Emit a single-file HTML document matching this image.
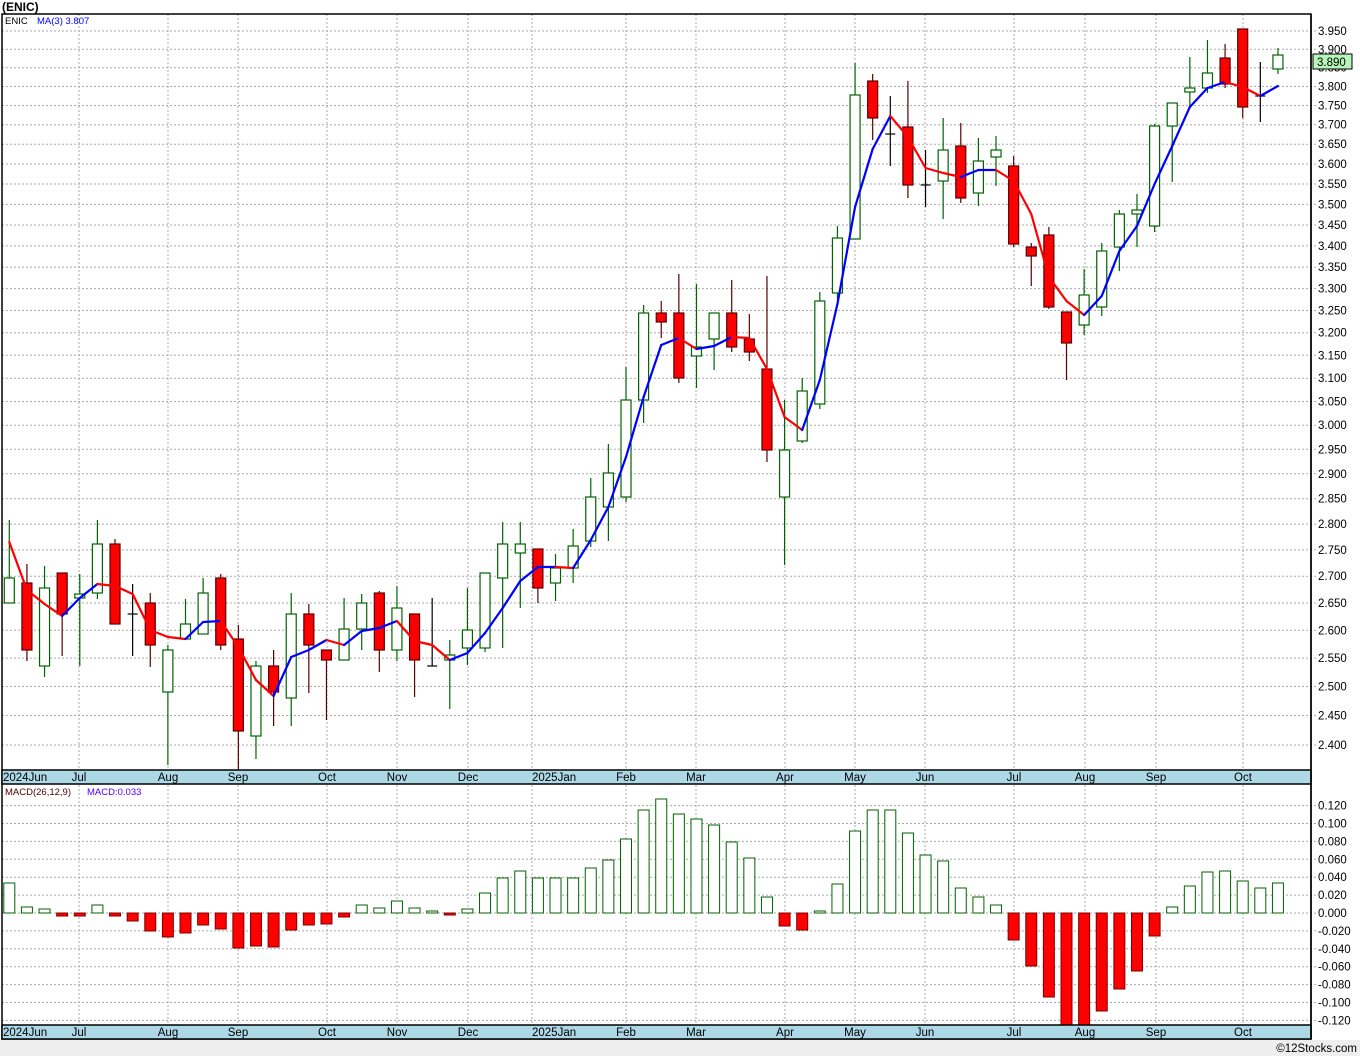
<!DOCTYPE html>
<html><head><meta charset="utf-8"><style>
html,body{margin:0;padding:0;background:#fff;}
svg{display:block;font-family:"Liberation Sans","DejaVu Sans",sans-serif;}
</style></head><body>
<svg id="c" width="1360" height="1056" xmlns="http://www.w3.org/2000/svg"></svg>
<script>
const S=document.getElementById('c');let h='';
h+='<rect x="0" y="1040" width="1360" height="16" fill="#eeeeee"/>';
h+='<text x="2" y="11" font-size="12" font-weight="bold">(ENIC)</text>';
const months=[[2,'2024Jun'],[79,'Jul'],[168,'Aug'],[238,'Sep'],[327,'Oct'],[397,'Nov'],[468,'Dec'],[532,'2025Jan'],[626,'Feb'],[696,'Mar'],[785,'Apr'],[855,'May'],[925,'Jun'],[1014,'Jul'],[1085,'Aug'],[1156,'Sep'],[1243,'Oct']];
for(const m of months){if(m[0]>5){h+=`<line x1="${m[0]}" y1="14" x2="${m[0]}" y2="770" stroke="#aaa" stroke-dasharray="2,2"/><line x1="${m[0]}" y1="785" x2="${m[0]}" y2="1025" stroke="#aaa" stroke-dasharray="2,2"/>`;}}
for(let k=0;k<32;k++){const p=3.95-k*0.05;const y=31+(Math.log(3.95)-Math.log(p))*1433;if(y>768)break;h+=`<line x1="2" y1="${y}" x2="1316" y2="${y}" stroke="#aaa" stroke-dasharray="2,2"/><text x="1318" y="${y+4}" font-size="11.5">${p.toFixed(3)}</text>`;}
for(let k=-6;k<=6;k++){const v=k*0.02;const y=913-k*17.9;h+=`<line x1="2" y1="${y}" x2="1316" y2="${y}" stroke="#aaa" stroke-dasharray="2,2"/><text x="1318" y="${y+4}" font-size="11.5">${(v<0?'-':'')+Math.abs(v).toFixed(3)}</text>`;}
const C=[[578,603,520,603,'g'],[583,650,564,661,'r'],[588,666,566,677,'g'],[573,614,573,656,'r'],[594,598,574,666,'g'],[544,593,520,599,'g'],[544,624,539,624,'r'],[614,614,584,656,'k'],[603,645,593,667,'r'],[650,692,645,765,'g'],[624,639,599,639,'g'],[593,634,578,634,'g'],[578,645,574,650,'r'],[639,731,625,770,'r'],[666,736,661,759,'g'],[666,692,650,726,'r'],[614,698,593,726,'g'],[614,645,604,693,'r'],[650,660,650,720,'r'],[629,660,598,660,'g'],[603,629,594,650,'g'],[593,650,591,672,'r'],[608,650,586,661,'g'],[614,660,614,697,'r'],[666,666,598,666,'k'],[655,660,640,709,'g'],
[630,648,588,665,'g'],[573,648,573,652,'g'],[544,578,522,648,'g'],[544,553,522,608,'g'],[549,588,549,603,'r'],[568,583,554,601,'g'],[546,568,529,583,'g'],[497,541,478,547,'g'],[473,507,444,541,'g'],[400,497,367,502,'g'],[313,400,305,423,'g'],[313,322,301,338,'r'],[313,378,274,383,'r'],[347,356,284,388,'g'],[313,339,313,370,'g'],[313,347,280,352,'r'],[339,352,314,361,'r'],[369,450,276,462,'r'],[450,497,400,565,'g'],[391,441,378,443,'g'],[301,404,292,409,'g'],[238,293,226,300,'g'],
[95,239,63,239,'g'],[81,118,74,140,'r'],[134,134,96,166,'k'],[127,185,81,198,'r'],[185,185,150,207,'k'],[150,181,118,219,'g'],[146,198,123,203,'r'],[161,193,138,206,'g'],[150,157,136,186,'g'],[166,244,156,247,'r'],[247,256,243,286,'r'],[235,307,227,309,'r'],[312,343,312,380,'r'],[295,325,269,335,'g'],[251,307,243,316,'g'],[214,247,210,271,'g'],[210,214,194,247,'g'],[126,226,124,232,'g'],[103,126,103,182,'g'],[88,92,57,107,'g'],[73,88,40,93,'g'],[58,84,44,88,'r'],[29,107,29,118,'r'],[96,96,62,122,'k'],[55,69,48,74,'g']];
const X=i=>9.3+17.62*i;
C.forEach((c,i)=>{const x=X(i);const col=c[4]=='g'?'#006400':c[4]=='r'?'#5a0000':'#000';
h+=`<line x1="${x}" y1="${c[2]}" x2="${x}" y2="${c[3]}" stroke="${col}" stroke-width="1.2"/>`;
if(c[4]=='k'){h+=`<line x1="${x-5}" y1="${c[0]}" x2="${x+5}" y2="${c[0]}" stroke="#000" stroke-width="1.2"/>`;}
else{const hh=Math.max(c[1]-c[0],2);h+=`<rect x="${x-5}" y="${c[0]}" width="10" height="${hh}" fill="${c[4]=='g'?'#fff':'#ff0000'}" stroke="${col}" stroke-width="1.2"/>`;}});
const M=[542,590,604,616,598,584,586,594,630,637,639,622,621,647,680,696,657,650,640,645,631,628,621,641,645,660,653,633,608,581,567,567,568,540,507,457,397,345,338,349,346,337,338,369,417,430,380,304,207,149,116,137,168,173,177,170,170,181,214,277,301,315,296,251,226,184,146,107,88,82,87,96,86];
for(let i=0;i<M.length-1;i++){h+=`<line x1="${X(i)}" y1="${M[i]}" x2="${X(i+1)}" y2="${M[i+1]}" stroke="${M[i+1]>M[i]?'#ff0000':'#0000ff'}" stroke-width="2.2" stroke-linecap="round"/>`;}
const D=[883,907,909,916,916,905,916,921,931,937,933,925,929,948,946,947,930,925,924,917,905,908,901,908,911,915,909,893,878,871,878,878,878,868,860,839,810,799,814,819,825,842,858,897,926,930,911,884,831,810,810,833,855,861,888,897,905,940,966,997,1025,1025,1011,989,971,936,907,886,872,871,881,888,883];
D.forEach((y,i)=>{const x=X(i);if(y<=913){h+=`<rect x="${x-5.5}" y="${y}" width="11" height="${913-y}" fill="#fff" stroke="#006400" stroke-width="1"/>`;}else{h+=`<rect x="${x-5.5}" y="913" width="11" height="${y-913}" fill="#ff0000" stroke="#800000" stroke-width="1"/>`;}});
h+='<rect x="2" y="14" width="1309" height="1025" fill="none" stroke="#000" stroke-width="1.5"/>';
for(const yb of [770,1025]){h+=`<rect x="2" y="${yb}" width="1309" height="14" fill="#add8e6" stroke="#000" stroke-width="1.5"/>`;
for(const m of months){h+=`<text x="${m[0]+(m[0]<5?1:0)}" y="${yb+11}" font-size="11.5" ${m[0]>5&&m[1].length<5?'text-anchor="middle"':''}>${m[1]}</text>`;}}
h+='<line x1="1311" y1="14" x2="1311" y2="1039" stroke="#000" stroke-width="1.5"/>';
h+='<text x="5" y="24" font-size="9.5" fill="#000">ENIC</text><text x="37" y="24" font-size="9.5" fill="#0000ff">MA(3)  3.807</text>';
h+='<text x="5" y="795" font-size="9.5" fill="#500000">MACD(26,12,9)</text><text x="87" y="795" font-size="9.5" fill="#5000ff">MACD:0.033</text>';
h+='<rect x="1313" y="54" width="39" height="15" fill="#b8f5b8" stroke="#000"/><text x="1317" y="66" font-size="11.5">3.890</text>';
h+='<text x="1357" y="1052" font-size="11.5" text-anchor="end">©12Stocks.com</text>';
S.innerHTML=h;
</script>
</body></html>
